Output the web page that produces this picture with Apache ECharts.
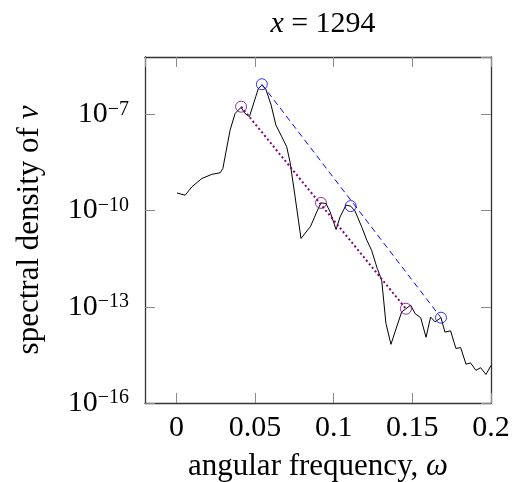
<!DOCTYPE html>
<html>
<head>
<meta charset="utf-8">
<script src="https://cdn.jsdelivr.net/npm/echarts@6/dist/echarts.min.js"></script>
<style>
  html, body { margin: 0; padding: 0; background: #fff; }
  #chart { width: 514px; height: 482px; }
</style>
</head>
<body>
<div id="chart"></div>
<script>
// angular frequency samples of the spectrum (black curve)
const omega = [0.0003, 0.0055, 0.0098, 0.0161, 0.0225, 0.0278, 0.0295, 0.0341, 0.0373, 0.0411,
  0.0436, 0.0464, 0.0475, 0.0504, 0.0521, 0.0543, 0.0568, 0.0602, 0.0632, 0.0670,
  0.0701, 0.0722, 0.0750, 0.0792, 0.0853, 0.0892, 0.0919, 0.0951, 0.0977, 0.1015,
  0.1040, 0.1078, 0.1108, 0.1135, 0.1178, 0.1210, 0.1241, 0.1277, 0.1305, 0.1332,
  0.1364, 0.1400, 0.1432, 0.1459, 0.1489, 0.1517, 0.1553, 0.1587, 0.1616, 0.1644,
  0.1682, 0.1707, 0.1743, 0.1777, 0.1807, 0.1841, 0.1870, 0.1904, 0.1934, 0.1968, 0.2000];
// log10 of spectral density at each sample
const densityExp = [-9.45, -9.52, -9.26, -9.00, -8.87, -8.82, -8.69, -7.49, -6.97, -6.78,
  -6.97, -7.07, -7.12, -6.45, -6.19, -6.09, -6.21, -6.71, -7.33, -7.70,
  -8.01, -8.48, -9.42, -10.87, -10.49, -10.04, -9.76, -9.78, -10.04, -10.59,
  -10.20, -9.83, -9.86, -10.01, -10.51, -10.92, -11.24, -11.81, -12.17, -13.52,
  -14.17, -13.63, -13.16, -13.06, -12.95, -13.21, -13.34, -13.95, -13.32, -13.47,
  -13.34, -13.79, -13.75, -14.30, -14.27, -14.79, -14.75, -14.98, -14.90, -15.11, -14.83];

// peaks picked out by circles
const bluePeakX = [0.0543, 0.1108, 0.1682];
const bluePeakExp = [-6.06, -9.86, -13.34];
const purplePeakX = [0.0411, 0.0919, 0.1459];
const purplePeakExp = [-6.76, -9.76, -13.06];

// straight decay lines through the peaks
const blueLineX = [0.0543, 0.1682];
const blueLineExp = [-6.06, -13.34];
const purpleLineX = [0.0411, 0.1459];
const purpleLineExp = [-6.76, -13.06];

const xMin = -0.02, xMax = 0.2;
const yMinExp = -16, yMaxExp = -5.21, yStep = 3;

function pairs(xs, es) {
  return xs.map((x, i) => [x, Math.pow(10, es[i])]);
}

const font = "'Liberation Serif', 'Times New Roman', serif";
const tickColor = "#8a8a8a";

let myChart = echarts.init(document.getElementById("chart")),
  option;

function xAxisOf(pos) {
  return {
    type: "value",
    position: pos,
    min: xMin,
    max: xMax,
    splitNumber: 5,
    splitLine: { show: false },
    axisLine: { show: true, onZero: false, lineStyle: { color: "#333", width: 1.3 } },
    axisTick: { show: true, inside: true, length: 10, lineStyle: { color: tickColor } }
  };
}
function yAxisOf(pos) {
  return {
    type: "log",
    logBase: 10,
    position: pos,
    min: 1e-16,
    max: Math.pow(10, yMaxExp),
    interval: yStep,
    splitLine: { show: false },
    axisLine: { show: true, onZero: false, lineStyle: { color: "#333", width: 1.3 } },
    axisTick: { show: true, inside: true, length: 10, lineStyle: { color: tickColor } }
  };
}

let xBottom = xAxisOf("bottom");
xBottom.name = "{n|angular frequency, }{i|ω}";
xBottom.nameLocation = "middle";
xBottom.nameGap = 48;
xBottom.nameTextStyle = {
  rich: {
    n: { fontFamily: font, fontSize: 31, color: "#000" },
    i: { fontFamily: font, fontSize: 31, fontStyle: "italic", color: "#000" }
  }
};
xBottom.axisLabel = {
  margin: 10,
  showMinLabel: false,
  fontFamily: font,
  fontSize: 30,
  color: "#000",
  formatter: v => (v < -0.001 ? "" : String(+v.toFixed(2)))
};

// mirror axes only carry the inside ticks of the box
let xTop = xAxisOf("top");
xTop.axisLabel = { color: "rgba(0,0,0,0)" };

let yLeft = yAxisOf("left");
yLeft.name = "{n|spectral density of }{i|v}";
yLeft.nameLocation = "middle";
yLeft.nameGap = 100;
yLeft.nameTextStyle = {
  rich: {
    n: { fontFamily: font, fontSize: 31, color: "#000" },
    i: { fontFamily: font, fontSize: 31, fontStyle: "italic", color: "#000" }
  }
};
yLeft.axisLabel = {
  margin: 16,
  showMaxLabel: false,
  formatter: function (v) {
    let e = Math.round(Math.log10(v));
    return "{b|10}{e|" + String(e).replace("-", "\u2212") + "}";
  },
  rich: {
    b: { fontFamily: font, fontSize: 30, color: "#000", lineHeight: 30 },
    e: { fontFamily: font, fontSize: 20, color: "#000", verticalAlign: "top", lineHeight: 20 }
  }
};

let yRight = yAxisOf("right");
yRight.axisLabel = { color: "rgba(0,0,0,0)" };

option = {
  animation: false,
  title: {
    text: "{i|x} = 1294",
    left: 318,
    top: 4,
    textAlign: "center",
    textStyle: {
      fontFamily: font,
      fontSize: 30,
      fontWeight: "normal",
      color: "#000",
      rich: {
        i: { fontFamily: font, fontSize: 30, fontStyle: "italic", color: "#000" }
      }
    }
  },
  grid: { left: 145, right: 23, top: 57, bottom: 79, containLabel: false, outerBoundsMode: "none" },
  xAxis: [xBottom, xTop],
  yAxis: [yLeft, yRight],
  series: [
    {
      name: "spectrum",
      type: "line",
      data: pairs(omega, densityExp),
      symbol: "none",
      lineStyle: { color: "#000", width: 1 },
      z: 2
    },
    {
      name: "blue fit",
      type: "line",
      data: pairs(blueLineX, blueLineExp),
      symbol: "none",
      lineStyle: { color: "#0000ff", width: 1, type: [6, 4] },
      z: 3
    },
    {
      name: "purple fit",
      type: "line",
      data: pairs(purpleLineX, purpleLineExp),
      symbol: "none",
      lineStyle: { color: "#800080", width: 2, type: [2, 2.6] },
      z: 3
    },
    {
      name: "blue peaks",
      type: "scatter",
      data: pairs(bluePeakX, bluePeakExp),
      symbol: "circle",
      symbolSize: 11,
      itemStyle: { color: "rgba(0,0,0,0)", borderColor: "#0000ff", borderWidth: 1 },
      z: 4
    },
    {
      name: "purple peaks",
      type: "scatter",
      data: pairs(purplePeakX, purplePeakExp),
      symbol: "circle",
      symbolSize: 11,
      itemStyle: { color: "rgba(0,0,0,0)", borderColor: "#800080", borderWidth: 1 },
      z: 4
    }
  ]
};

if (option && typeof option === "object") myChart.setOption(option);
window.addEventListener("resize", function () {
  myChart.resize();
});
</script>
</body>
</html>
